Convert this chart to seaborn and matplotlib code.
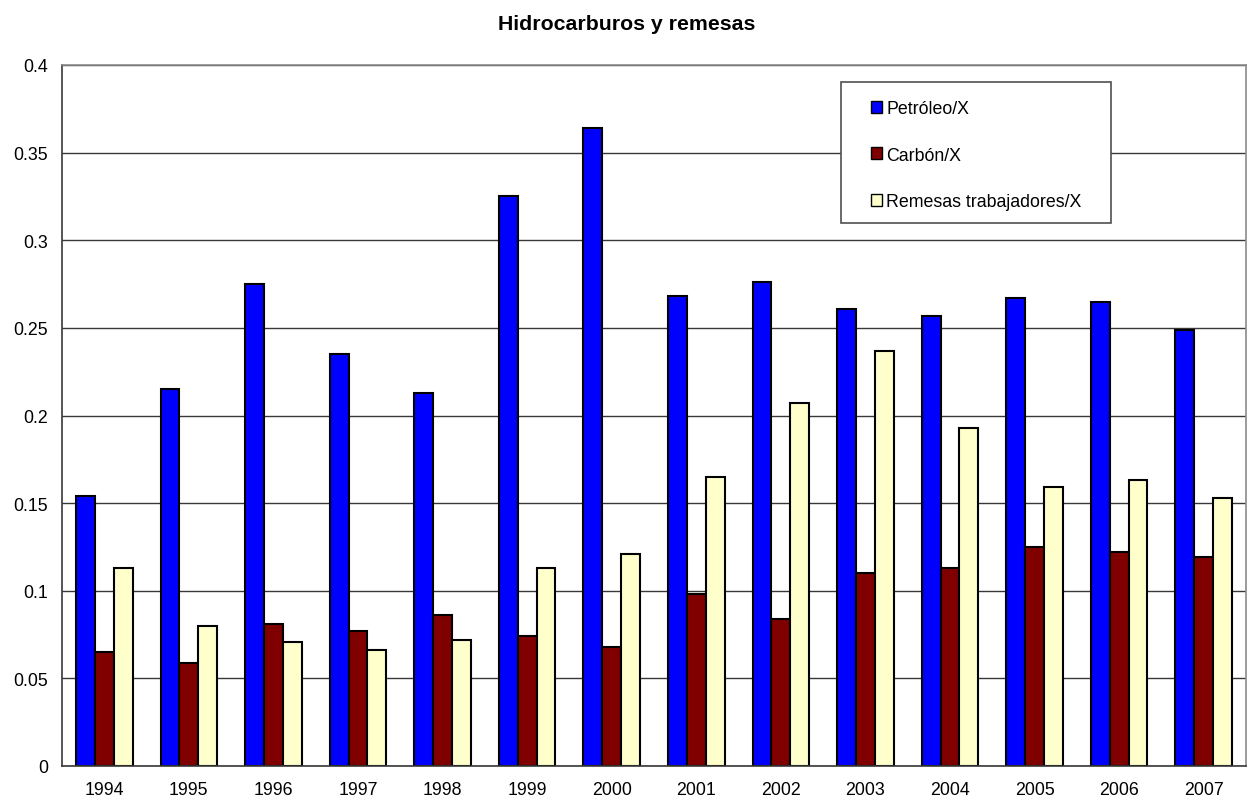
import matplotlib
matplotlib.use("Agg")
import matplotlib.pyplot as plt
import seaborn as sns
import pandas as pd

years = [str(y) for y in range(1994, 2008)]
petroleo = [0.154, 0.215, 0.275, 0.235, 0.213, 0.325, 0.364, 0.268, 0.276, 0.261, 0.257, 0.267, 0.265, 0.249]
carbon = [0.065, 0.059, 0.081, 0.077, 0.086, 0.074, 0.068, 0.098, 0.084, 0.110, 0.113, 0.125, 0.122, 0.119]
remesas = [0.113, 0.080, 0.071, 0.066, 0.072, 0.113, 0.121, 0.165, 0.207, 0.237, 0.193, 0.159, 0.163, 0.153]
series_names = ["Petróleo/X", "Carbón/X", "Remesas trabajadores/X"]
colors = ["#0000FF", "#800000", "#FFFFCC"]

df = pd.DataFrame({
    "year": years * 3,
    "value": petroleo + carbon + remesas,
    "serie": [series_names[0]] * 14 + [series_names[1]] * 14 + [series_names[2]] * 14,
})

sns.set_theme(style="white")
plt.rcParams["font.family"] = ["Liberation Sans", "DejaVu Sans"]
plt.rcParams["text.color"] = "black"
plt.rcParams["xtick.labelcolor"] = "black"
plt.rcParams["ytick.labelcolor"] = "black"

W, H = 1253, 804
fig = plt.figure(figsize=(W / 100, H / 100), dpi=100)
ax = fig.add_axes([62 / W, 1 - 767 / H, (1246 - 62) / W, (767 - 66) / H])

sns.barplot(data=df, x="year", y="value", hue="serie", palette=colors,
            saturation=1, width=0.67, edgecolor="black", linewidth=1.5,
            ax=ax, legend=False, zorder=3)

ax.set_ylim(0, 0.4)
ax.set_xlim(-0.5, 13.5)
ax.set_yticks([0, 0.05, 0.1, 0.15, 0.2, 0.25, 0.3, 0.35, 0.4])
ax.set_yticklabels(["0", "0.05", "0.1", "0.15", "0.2", "0.25", "0.3", "0.35", "0.4"])
ax.yaxis.grid(True, color="#383838", linewidth=1, zorder=0)
ax.set_axisbelow(True)

# category separators as outward ticks on the x axis
ax.set_xticks(list(range(14)))
ax.set_xticklabels(years)
ax.tick_params(axis="x", length=0, pad=11, labelsize=12.8, labelcolor="black")
ax.set_xticks([i - 0.5 for i in range(15)], minor=True)
ax.tick_params(axis="x", which="minor", length=6, width=1, color="#383838", direction="out")
ax.tick_params(axis="y", length=6, width=1, color="#383838", direction="out",
               labelsize=12.8, pad=4, labelcolor="black")

ax.set_xlabel("")
ax.set_ylabel("")
ax.spines["left"].set_color("#383838")
ax.spines["bottom"].set_color("#383838")
ax.spines["right"].set_color("#8a8a8a")
ax.spines["top"].set_color("#8a8a8a")
for s in ax.spines.values():
    s.set_linewidth(1.2)
    s.set_zorder(4)

fig.suptitle("Hidrocarburos y remesas", fontsize=15.3, fontweight="bold",
             y=1 - 25 / H, va="center", color="black")

# legend frame
frame = plt.Rectangle((841 / W, 1 - 224 / H), (1111 - 841) / W, (224 - 83) / H,
                      transform=fig.transFigure, facecolor="white", edgecolor="#505050",
                      linewidth=1.2, zorder=5)
fig.patches.append(frame)

handles = [plt.Rectangle((0, 0), 1, 1, facecolor=c, edgecolor="black", linewidth=1) for c in colors]
leg = fig.legend(handles, series_names, loc="upper left",
                 bbox_to_anchor=(871 / W, 1 - 101 / H), bbox_transform=fig.transFigure,
                 frameon=False, fontsize=12.8, labelcolor="black",
                 handlelength=0.62, handleheight=0.62, handletextpad=0.25,
                 labelspacing=1.66, borderpad=0, borderaxespad=0)
leg.set_zorder(6)

fig.savefig("out.png", dpi=100, facecolor="white")
